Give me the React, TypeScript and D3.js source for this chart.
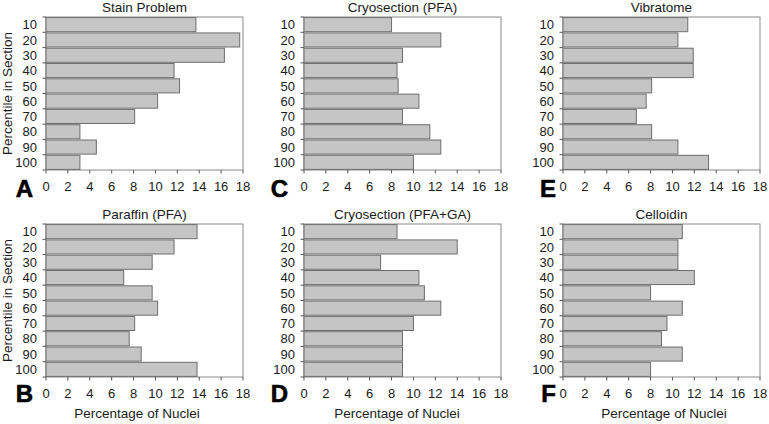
import React from "react";
import * as d3 from "d3";

const CATEGORIES = ["10", "20", "30", "40", "50", "60", "70", "80", "90", "100"];
const X_TICKS = [0, 2, 4, 6, 8, 10, 12, 14, 16, 18];

const stainProblem = [13.7, 17.7, 16.3, 11.7, 12.2, 10.2, 8.1, 3.1, 4.6, 3.1];
const cryosectionPFA = [8.0, 12.5, 9.0, 8.5, 8.6, 10.5, 9.0, 11.5, 12.5, 10.0];
const vibratome = [11.4, 10.5, 11.9, 11.9, 8.1, 7.6, 6.7, 8.1, 10.5, 13.3];
const paraffinPFA = [13.8, 11.7, 9.7, 7.1, 9.7, 10.2, 8.1, 7.6, 8.7, 13.8];
const cryosectionPFAGA = [8.5, 14.0, 7.0, 10.5, 11.0, 12.5, 10.0, 9.0, 9.0, 9.0];
const celloidin = [10.9, 10.5, 10.5, 12.0, 8.0, 10.9, 9.5, 9.0, 10.9, 8.0];

const PANEL_TITLES = ["Stain Problem", "Cryosection (PFA)", "Vibratome", "Paraffin (PFA)", "Cryosection (PFA+GA)", "Celloidin"];
const PANEL_LETTERS = ["A", "C", "E", "B", "D", "F"];
const PANEL_VALUES = [stainProblem, cryosectionPFA, vibratome, paraffinPFA, cryosectionPFAGA, celloidin];

const Y_LABEL = "Percentile in Section";
const X_LABEL = "Percentage of Nuclei";

// layout
const W = 769;
const H = 424;
const COL_LEFT = [46, 304, 563];
const ROW_TOP = [17, 224];
const PLOT_W = 197;
const PLOT_H = 153;
const LETTER_RIGHT = [33, 288, 556];
const XLABEL_CENTER = [137, 397, 664];
const FONT = "'Liberation Sans', Arial, Helvetica, sans-serif";
const TEXT_COLOR = "#1a1a1a";

function Panel({ idx }: { idx: number }) {
  const col = idx % 3;
  const row = Math.floor(idx / 3);
  const left = COL_LEFT[col];
  const top = ROW_TOP[row];
  const values = PANEL_VALUES[idx];
  const x = d3.scaleLinear().domain([0, 18]).range([left, left + PLOT_W]);
  const y = d3
    .scaleBand<string>()
    .domain(CATEGORIES)
    .range([top, top + PLOT_H])
    .paddingInner(0.08)
    .paddingOuter(0.04);
  const boundaries = d3.range(CATEGORIES.length + 1).map((i) => top + (PLOT_H / CATEGORIES.length) * i);
  const bottom = top + PLOT_H;
  return (
    <g>
      <text x={left + PLOT_W / 2} y={top - 5.5} textAnchor="middle" fontSize={13.5} fill={TEXT_COLOR}>
        {PANEL_TITLES[idx]}
      </text>
      <rect x={left} y={top} width={PLOT_W} height={PLOT_H} fill="#fff" stroke="#8a8a8a" strokeWidth={1} />
      {values.map((v, i) => (
        <rect
          key={i}
          x={x(0)}
          y={y(CATEGORIES[i])}
          width={x(v) - x(0)}
          height={y.bandwidth()}
          fill="#c5c5c5"
          stroke="#6e6e6e"
          strokeWidth={1}
        />
      ))}
      {boundaries.map((b, i) => (
        <line key={"yt" + i} x1={left - 3.5} x2={left} y1={b} y2={b} stroke="#555" strokeWidth={1} />
      ))}
      {CATEGORIES.map((c) => (
        <text
          key={"yl" + c}
          x={left - 9}
          y={(y(c) as number) + y.bandwidth() / 2}
          dy="0.36em"
          textAnchor="end"
          fontSize={13}
          fill={TEXT_COLOR}
        >
          {c}
        </text>
      ))}
      {X_TICKS.map((t) => (
        <g key={"xt" + t}>
          <line x1={x(t)} x2={x(t)} y1={bottom} y2={bottom + 3.5} stroke="#555" strokeWidth={1} />
          <text x={x(t)} y={bottom + 21} textAnchor="middle" fontSize={13} fill={TEXT_COLOR}>
            {t}
          </text>
        </g>
      ))}
      <text
        x={LETTER_RIGHT[col]}
        y={bottom + (row === 0 ? 27 : 25)}
        textAnchor="end"
        fontSize={24}
        fontWeight="bold"
        fill="#000"
        stroke="#000"
        strokeWidth={0.6}
      >
        {PANEL_LETTERS[idx]}
      </text>
      {col === 0 && (
        <text
          transform={`translate(${12},${top + PLOT_H / 2}) rotate(-90)`}
          textAnchor="middle"
          fontSize={13.5}
          fill={TEXT_COLOR}
        >
          {Y_LABEL}
        </text>
      )}
      {row === 1 && (
        <text x={XLABEL_CENTER[col]} y={bottom + 41} textAnchor="middle" fontSize={13.5} fill={TEXT_COLOR}>
          {X_LABEL}
        </text>
      )}
    </g>
  );
}

export default function App() {
  return (
    <svg
      width={W}
      height={H}
      viewBox={`0 0 ${W} ${H}`}
      style={{ position: "absolute", left: 0, top: 0, display: "block", fontFamily: FONT, background: "#fff" }}
    >
      <rect x={0} y={0} width={W} height={H} fill="#fff" />
      {PANEL_TITLES.map((_, i) => (
        <Panel key={i} idx={i} />
      ))}
    </svg>
  );
}
